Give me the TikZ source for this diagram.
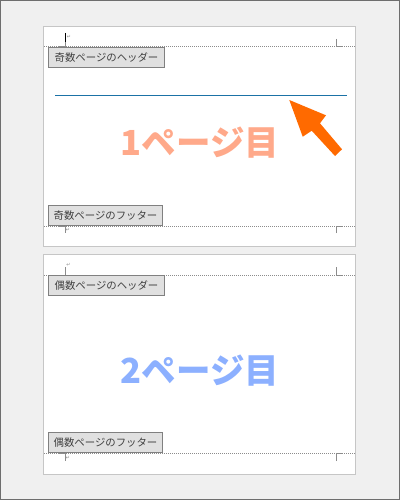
\documentclass[tikz,border=0pt]{standalone}
\usepackage{fontspec}
\newfontfamily\jpfont{Noto Sans CJK JP}
\newfontfamily\symfont{DejaVu Sans}
\usetikzlibrary{positioning}
\definecolor{PageGray}{HTML}{C6C6C6}
\definecolor{BackGray}{HTML}{F0F0F0}
\definecolor{FrameGray}{HTML}{6E6E6E}
\definecolor{MarkGray}{HTML}{8C8C8C}
\definecolor{TagFill}{HTML}{E0E0E0}
\definecolor{TagText}{HTML}{404040}
\definecolor{RuleBlue}{HTML}{1B72A6}
\definecolor{ArrowOrange}{HTML}{FF6A00}
\definecolor{OddSalmon}{HTML}{FFA98A}
\definecolor{EvenBlue}{HTML}{8CB0FF}
\begin{document}
\begin{tikzpicture}[x=1pt,y=-1pt]
  \tikzset{PageStyle/.style  = {draw = PageGray, fill = white, line width = 1pt},
           EdgeStyle/.style  = {draw = MarkGray, line width = 1pt, dash pattern = on 1pt off 1pt},
           MarkStyle/.style  = {draw = MarkGray, line width = 1pt},
           TagStyle/.style   = {draw           = gray,
                                fill           = TagFill,
                                text           = TagText,
                                font           = \jpfont\fontsize{10.4}{11}\selectfont,
                                line width     = 1pt,
                                inner sep      = 0pt,
                                anchor         = north west,
                                minimum height = 20pt},
           BigStyle/.style   = {font = \jpfont\bfseries\fontsize{34.5}{35}\selectfont, inner sep = 0pt},
           ParaStyle/.style  = {text = MarkGray, font = \symfont\fontsize{5}{5}\selectfont, inner sep = 0pt}}
  %%% FOND %%%
  \useasboundingbox (0,0) rectangle (400,500);
  \fill[BackGray] (0,0) rectangle (400,500);
  \draw[FrameGray, line width = 1.2pt] (0.6,0.6) rectangle (399.4,499.4);
  %%% PAGE 1 %%%
  \draw[PageStyle] (43.5,26.5) rectangle (355.5,246.5);
  \draw[EdgeStyle] (44,47) -- (355,47);
  \draw[EdgeStyle] (44,226) -- (355,226);
  \draw[MarkStyle] (58,47) -- (65,47) -- (65,40);
  \draw[MarkStyle] (336,39) -- (336,47) -- (343,47);
  \draw[MarkStyle] (58,226) -- (65,226) -- (65,233);
  \draw[MarkStyle] (336,233) -- (336,226) -- (343,226);
  \draw[black, line width = 1pt] (65,33) -- (65,42);
  \node[ParaStyle] (p1) at (69,37) {↵};
  \node[ParaStyle] (p2) at (68,230) {↵};
  \node[TagStyle, minimum width = 116pt] (oddhead) at (48,47) {奇数ページのヘッダー};
  \node[TagStyle, minimum width = 114pt, anchor = south west] (oddfoot) at (48,226) {奇数ページのフッター};
  \coordinate (rulestart) at (55,95.7);
  \coordinate (ruleend) at (347,95.7);
  \draw[RuleBlue, line width = 1.5pt] (rulestart) -- (ruleend);
  \node[BigStyle, text = OddSalmon] (page1) at (200,142.5) {1ページ目};
  \fill[ArrowOrange] (289.3,100) -- (326,115.3) -- (320,123.3) -- (342,149.3)
                     -- (335,156) -- (311.7,130.7) -- (302.7,136.7) -- cycle;
  %%% PAGE 2 %%%
  \draw[PageStyle] (43.5,254.5) rectangle (355.5,474.5);
  \draw[EdgeStyle] (44,275) -- (355,275);
  \draw[EdgeStyle] (44,453) -- (355,453);
  \draw[MarkStyle] (58,275) -- (65,275) -- (65,266.5);
  \draw[MarkStyle] (336,267) -- (336,275) -- (343,275);
  \draw[MarkStyle] (58,453) -- (65,453) -- (65,461);
  \draw[MarkStyle] (336,461) -- (336,453) -- (343,453);
  \node[ParaStyle] (p3) at (68.5,265) {↵};
  \node[ParaStyle] (p4) at (68,458) {↵};
  \node[TagStyle, minimum width = 116pt] (evenhead) at (48,275) {偶数ページのヘッダー};
  \node[TagStyle, minimum width = 114pt, anchor = south west] (evenfoot) at (48,453) {偶数ページのフッター};
  \node[BigStyle, text = EvenBlue] (page2) at (200,371) {2ページ目};
\end{tikzpicture}
\end{document}
